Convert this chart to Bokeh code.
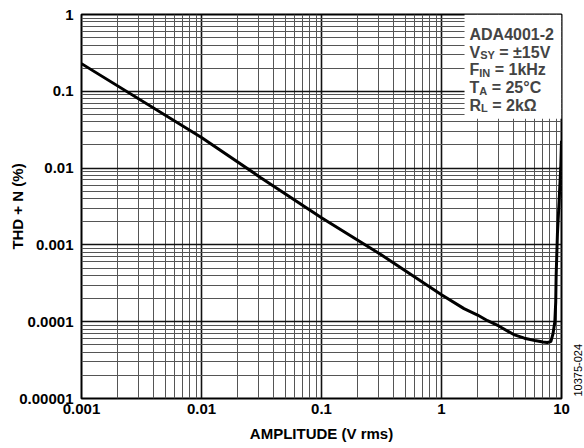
import math
from bokeh.plotting import figure
from bokeh.layouts import row
from bokeh.models import (FixedTicker, CustomJSTickFormatter, Label, BoxAnnotation,
                          ColumnDataSource)
from bokeh.core.properties import value
from bokeh.embed import file_html
from bokeh.resources import INLINE

# ---- data ----
amplitude = [0.001, 0.01, 0.0312, 0.1, 0.312, 1.0, 1.54, 2.0, 2.42, 3.0, 4.0, 4.9,
             6.0, 7.0, 7.6, 8.15, 8.5, 8.8, 8.95, 9.02, 9.25, 9.55, 9.86, 10.0]
thd_n = [0.229, 0.0251, 0.0075, 0.00226, 0.00075, 0.000225, 0.000148, 0.000122,
         0.000103, 0.000088, 0.000068, 0.000061, 0.000057, 0.0000545, 0.0000535,
         0.000055, 0.00007, 0.0001, 0.00018, 0.00039, 0.0014, 0.0037, 0.0102, 0.0227]

x_major = [0.001, 0.01, 0.1, 1, 10]
y_major = [0.00001, 0.0001, 0.001, 0.01, 0.1, 1]
minor_mult = [2, 3, 4, 5, 6, 7, 8, 9]

legend_title = "ADA4001-2"
legend_lines = [("V", "SY", "= ±15V"), ("F", "IN", "= 1kHz"),
                ("T", "A", "= 25°C"), ("R", "L", "= 2kΩ")]
x_title = "AMPLITUDE (V rms)"
y_title = "THD + N (%)"
figure_code = "10375-024"

FONT = "Liberation Sans"
FRAME_BOTTOM = 398  # page y of the plot frame's bottom edge

x_minor = [m * d for d in x_major[:-1] for m in minor_mult]
y_minor = [m * d for d in y_major[:-1] for m in minor_mult]

p = figure(width=570, height=448, x_axis_type="log", y_axis_type="log",
           x_range=(0.001, 10), y_range=(0.00001, 1),
           output_backend="svg", toolbar_location=None,
           min_border_left=81, min_border_right=9, min_border_top=14,
           min_border_bottom=50)
p.background_fill_color = "white"
p.border_fill_color = "white"
p.outline_line_color = "black"
p.outline_line_width = 2

p.xaxis.ticker = FixedTicker(ticks=x_major, minor_ticks=x_minor)
p.yaxis.ticker = FixedTicker(ticks=y_major, minor_ticks=y_minor)
js = "return tick.toFixed(Math.max(0, -Math.round(Math.log10(tick))));"
p.xaxis.formatter = CustomJSTickFormatter(code=js)
p.yaxis.formatter = CustomJSTickFormatter(code=js)

for ax in (p.xaxis, p.yaxis):
    ax.axis_line_color = None
    ax.major_tick_line_color = None
    ax.minor_tick_line_color = None
    ax.major_tick_in = 0
    ax.major_tick_out = 0
    ax.minor_tick_in = 0
    ax.minor_tick_out = 0
    ax.major_label_text_font = FONT
    ax.major_label_text_font_style = "bold"
    ax.major_label_text_font_size = "15px"
    ax.major_label_text_color = "black"
    ax.axis_label_text_font = FONT
    ax.axis_label_text_font_style = "bold"
    ax.axis_label_text_font_size = "15px"
    ax.axis_label_text_color = "black"
p.xaxis.major_label_standoff = 5
p.yaxis.major_label_standoff = 8
p.xaxis.axis_label = x_title
p.xaxis.axis_label_standoff = 8
p.yaxis.axis_label = y_title
p.yaxis.axis_label_standoff = -10

for g in (p.xgrid, p.ygrid):
    g.grid_line_color = "#111111"
    g.grid_line_width = 1.6
    g.minor_grid_line_color = "#555555"
    g.minor_grid_line_width = 1

# white box behind the conditions text
p.add_layout(BoxAnnotation(left=1.556, bottom=0.044, fill_color="white", fill_alpha=1,
                           line_alpha=0, level="underlay"))

src = ColumnDataSource(dict(x=amplitude, y=thd_n))
p.line("x", "y", source=src, line_color="black", line_width=3)

# conditions text
LX = 388
FS = 16
SUB = 11
W = {"V": 667, "F": 611, "T": 611, "R": 722, "S": 667, "Y": 667, "I": 278, "N": 722,
     "A": 722, "L": 611}
p.add_layout(Label(x=LX, y=FRAME_BOTTOM - 34, x_units="screen", y_units="screen",
                   text=legend_title, text_baseline="alphabetic", text_font=FONT,
                   text_font_style="bold", text_font_size=f"{FS}px"))
for i, (main, sub, rest) in enumerate(legend_lines):
    base = FRAME_BOTTOM - (51.5 + 17.8 * i)
    p.add_layout(Label(x=LX, y=base, x_units="screen", y_units="screen", text=main,
                       text_baseline="alphabetic", text_font=FONT, text_font_style="bold",
                       text_font_size=f"{FS}px"))
    x1 = LX + W[main] * FS / 1000
    p.add_layout(Label(x=x1, y=base - 3, x_units="screen", y_units="screen", text=sub,
                       text_baseline="alphabetic", text_font=FONT, text_font_style="bold",
                       text_font_size=f"{SUB}px"))
    x2 = x1 + sum(W[c] for c in sub) * SUB / 1000 + 0.278 * FS
    p.add_layout(Label(x=x2, y=base, x_units="screen", y_units="screen", text=rest,
                       text_baseline="alphabetic", text_font=FONT, text_font_style="bold",
                       text_font_size=f"{FS}px"))

# narrow strip on the right carrying the figure code
q = figure(width=14, height=448, x_range=(0, 14), y_range=(448, 0),
           output_backend="svg", toolbar_location=None,
           min_border_left=0, min_border_right=0, min_border_top=0, min_border_bottom=0)
q.axis.visible = False
q.grid.visible = False
q.outline_line_color = None
q.background_fill_color = "white"
q.border_fill_color = "white"
q.text(x=[7], y=[415], text=[figure_code], angle=math.pi / 2, text_align="center",
       text_baseline="middle", text_font=value(FONT), text_font_size="11px",
       text_color="black")

layout = row(p, q, spacing=0)
open("out.html", "w").write(file_html(layout, INLINE))
